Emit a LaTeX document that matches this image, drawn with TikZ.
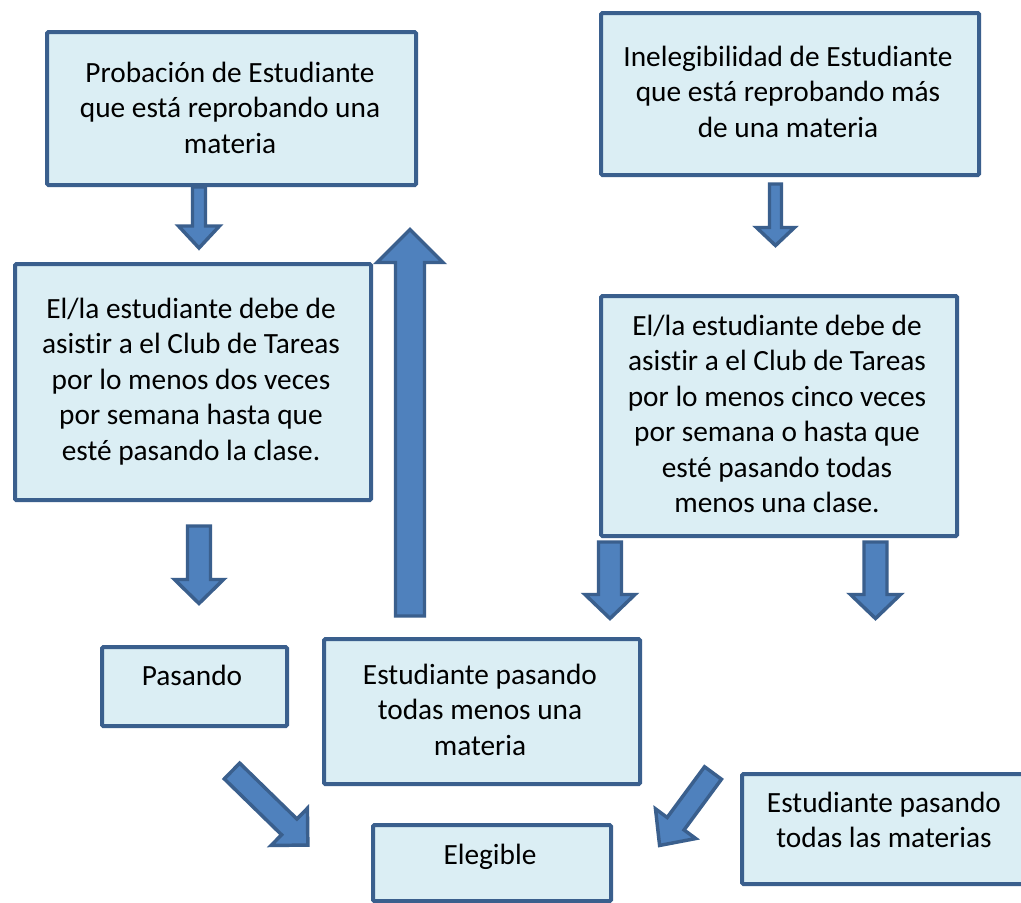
\documentclass[tikz,border=0pt]{standalone}
\usepackage{fontspec}
\setmainfont{Carlito}[Ligatures={NoCommon}]
\definecolor{boxfill}{HTML}{DBEEF4}
\definecolor{boxline}{HTML}{3A5F8D}
\definecolor{arrfill}{HTML}{4F81BD}
\tikzset{
  box/.style={draw=boxline, fill=boxfill, line width=3pt, rounded corners=1pt},
  txt/.style={align=center, anchor=north, inner sep=0pt, font=\fontsize{22}{26.6}\selectfont},
  barrow/.style={draw=boxline, fill=arrfill, line width=2.6pt, line join=miter},
}
% name, x, y, angle, length, shaft width, head width, head length
\newcommand\blockarrow[8]{%
  \begin{scope}[shift={(#2,#3)}, rotate=#4]
    \draw[barrow] (0,{-#6/2}) -- ({#5-#8},{-#6/2}) -- ({#5-#8},{-#7/2}) -- (#5,0)
      -- ({#5-#8},{#7/2}) -- ({#5-#8},{#6/2}) -- (0,{#6/2}) -- cycle;
    \coordinate (#1) at (#5,0);
  \end{scope}}
% name, x1, y1, x2, y2
\newcommand\boxat[5]{%
  \node[box, anchor=north west, inner sep=0pt, minimum width={(#4-#2)*0.75pt},
    minimum height={(#5-#3)*0.75pt}] (#1) at (#2,#3) {};}
\begin{document}
\begin{tikzpicture}[x=0.75pt, y=-0.75pt]
\path[use as bounding box, fill=white] (0,0) rectangle (1021,903);
\begin{scope}
\clip (0,0) rectangle (1021,903);
% boxes
\boxat{b1}{45}{30}{414}{183}
\boxat{b2}{599}{11}{977}{173}
\boxat{b3}{13}{262}{369}{498}
\boxat{b4}{599}{294}{955}{534}
\boxat{b5}{100}{645}{285}{724}
\boxat{b6}{322}{637}{638}{782}
\boxat{b7}{371}{823}{609}{899}
\boxat{b8}{740}{772}{1040}{882}
% texts
\node[txt] (t1) at (230,57.3) {\strut Probación de Estudiante\\que está reprobando una\\materia};
\node[txt] (t2) at (788,41.3) {\strut Inelegibilidad de Estudiante\\que está reprobando más\\de una materia};
\node[txt] (t3) at (191,293.3) {\strut El/la estudiante debe de\\asistir a el Club de Tareas\\por lo menos dos veces\\por semana hasta que\\esté pasando la clase.};
\node[txt] (t4) at (777,310.3) {\strut El/la estudiante debe de\\asistir a el Club de Tareas\\por lo menos cinco veces\\por semana o hasta que\\esté pasando todas\\menos una clase.};
\node[txt] (t5) at (192,660.3) {\strut Pasando};
\node[txt] (t6) at (480,659.3) {\strut Estudiante pasando\\todas menos una\\materia};
\node[txt] (t7) at (490,839.3) {\strut Elegible};
\node[txt] (t8) at (884,787.3) {\strut Estudiante pasando\\todas las materias};
% block arrows
\blockarrow{a1}{199}{187}{-90}{61}{13}{41}{22}
\blockarrow{a2}{775.5}{184}{-90}{61.5}{12}{38}{18}
\blockarrow{a3}{199}{526}{-90}{77.5}{23}{49}{24}
\blockarrow{a4}{410}{616}{90}{386.5}{29}{66}{33}
\blockarrow{a5}{610}{542}{-90}{76.5}{23}{50}{24}
\blockarrow{a6}{875.5}{542}{-90}{76.5}{23}{50}{24}
\blockarrow{a7}{232}{771}{-44.3}{106}{22}{52}{26}
\blockarrow{a8}{713}{773}{-126.4}{90}{21}{50}{27}
\end{scope}
\end{tikzpicture}
\end{document}
